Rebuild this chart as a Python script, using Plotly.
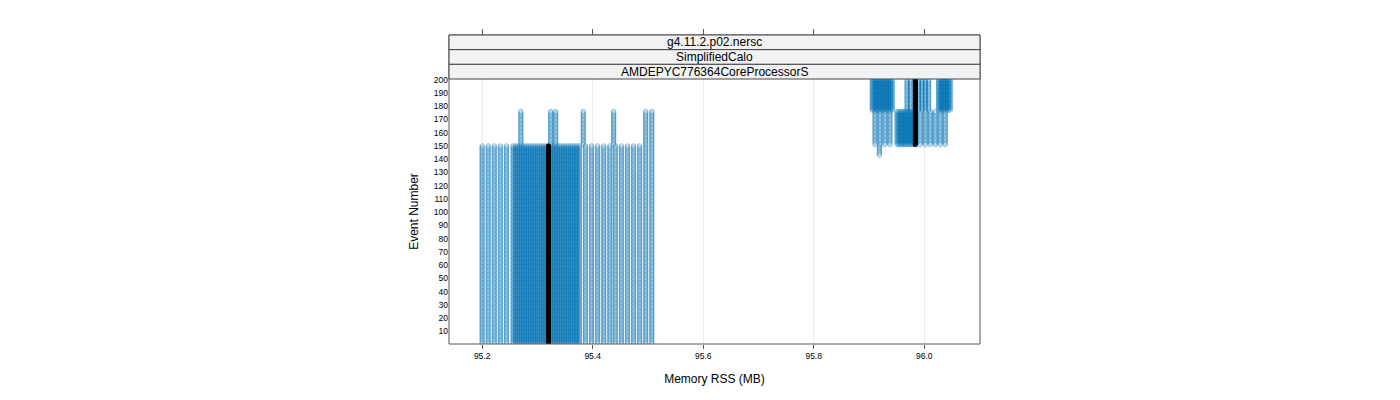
import plotly.graph_objects as go

# ---- data ----
# each group: memory values (MB) that appear for every event in [first, last]
grpA_events = (1, 150)
grpA_mem = [95.200, 95.211, 95.222, 95.233, 95.244,
            95.256, 95.260, 95.264, 95.268, 95.272, 95.276, 95.280, 95.284,
            95.288, 95.292, 95.296, 95.300, 95.304, 95.308, 95.312, 95.316,
            95.320, 95.324, 95.328, 95.332, 95.336, 95.340, 95.344, 95.348,
            95.352, 95.356, 95.360, 95.364, 95.368, 95.372,
            95.376, 95.387, 95.398, 95.409, 95.420, 95.431, 95.441, 95.452,
            95.463, 95.474, 95.485, 95.496, 95.507]
grpB_events = (151, 176)
grpB_mem = [95.270, 95.324, 95.333, 95.383, 95.438, 95.496, 95.507]
grpC_events = (151, 176)
grpC_mem = [95.911, 95.920, 95.929, 95.938,
            95.951, 95.954, 95.957, 95.960, 95.963, 95.966, 95.969, 95.972,
            95.975, 95.978, 95.981,
            95.993, 96.002, 96.011, 96.020, 96.029, 96.038]
grpD_events = (177, 200)
grpD_mem = [95.906, 95.909, 95.912, 95.915, 95.918, 95.921, 95.924, 95.927,
            95.930, 95.933, 95.936, 95.939, 95.942,
            95.969, 95.975,
            95.990, 95.996, 96.002, 96.008,
            96.026, 96.029, 96.032, 96.035, 96.038, 96.041, 96.044, 96.047]
grpE_events = (143, 150)
grpE_mem = [95.919]

median_segments = [((1, 150), 95.320), ((151, 200), 95.984)]

x_ticks = [95.2, 95.4, 95.6, 95.8, 96.0]
x_ticklabels = ["95.2", "95.4", "95.6", "95.8", "96.0"]
y_ticks = list(range(10, 201, 10))
strip_labels = ["g4.11.2.p02.nersc", "SimplifiedCalo", "AMDEPYC776364CoreProcessorS"]

# ---- expand groups into points ----
xs, ys = [], []
for (e0, e1), mems in [(grpA_events, grpA_mem), (grpB_events, grpB_mem),
                       (grpC_events, grpC_mem), (grpD_events, grpD_mem),
                       (grpE_events, grpE_mem)]:
    for m in mems:
        for ev in range(e0, e1 + 1):
            xs.append(m)
            ys.append(ev)

mx, my = [], []
for (e0, e1), m in median_segments:
    for ev in range(e0, e1 + 1):
        mx.append(m)
        my.append(ev)

W, H = 1400, 400
OFF = 8                  # page body margin
L, R = 449 - OFF, 980 - OFF          # plot area px (figure coords)
T_strip, T_plot, B = 35 - OFF, 79 - OFF, 344 - OFF

def px(x):
    return x / W

def py(y):
    return 1 - y / H

fig = go.Figure()
fig.add_trace(go.Scatter(
    x=xs, y=ys, mode="markers",
    marker=dict(symbol="circle-open", size=4.5, color="rgba(0,114,178,0.38)",
                line=dict(width=1, color="rgba(0,114,178,0.38)")),
    hoverinfo="skip", showlegend=False))
fig.add_trace(go.Scatter(
    x=mx, y=my, mode="markers",
    marker=dict(symbol="circle", size=5, color="black"),
    hoverinfo="skip", showlegend=False))
# invisible trace for top axis
fig.add_trace(go.Scatter(x=[95.6], y=[100], xaxis="x2", mode="markers",
                         marker=dict(opacity=0), hoverinfo="skip", showlegend=False))

xrange = [95.140, 96.101]
fig.update_layout(
    width=W, height=H,
    margin=dict(l=0, r=0, t=0, b=0, autoexpand=False),
    paper_bgcolor="white", plot_bgcolor="white",
    font=dict(family="Liberation Sans, Arial, sans-serif", color="black"),
    xaxis=dict(domain=[px(L), px(R)], range=xrange, automargin=False,
               tickvals=x_ticks, ticktext=x_ticklabels,
               ticks="outside", ticklen=4, tickcolor="#555555",
               tickfont=dict(size=8.5), showgrid=True, gridcolor="#ebebeb",
               zeroline=False, showline=False,
               title=dict(text="Memory RSS (MB)", font=dict(size=12), standoff=14)),
    xaxis2=dict(overlaying="x", anchor="free", position=py(T_strip), side="top",
                range=xrange, tickvals=x_ticks, showticklabels=False, automargin=False,
                ticks="outside", ticklen=6, tickcolor="#555555",
                showgrid=False, zeroline=False, showline=False),
    yaxis=dict(domain=[py(B), py(T_plot)], range=[0.5, 200.5], automargin=False,
               tickvals=y_ticks, ticks="", tickfont=dict(size=8.5),
               showgrid=False, zeroline=False, showline=False,
               title=dict(text="Event Number", font=dict(size=12), standoff=12)),
)

# panel border
fig.add_shape(type="rect", xref="paper", yref="paper",
              x0=px(L), x1=px(R), y0=py(B), y1=py(T_strip),
              line=dict(color="#555555", width=1), fillcolor="rgba(0,0,0,0)")
# strips
edges = [T_strip, T_strip + (T_plot - T_strip) / 3, T_strip + 2 * (T_plot - T_strip) / 3, T_plot]
for i, lab in enumerate(strip_labels):
    fig.add_shape(type="rect", xref="paper", yref="paper",
                  x0=px(L), x1=px(R), y0=py(edges[i + 1]), y1=py(edges[i]),
                  line=dict(color="#444444", width=1), fillcolor="#f2f2f2", layer="above")
    fig.add_annotation(xref="paper", yref="paper",
                       x=(px(L) + px(R)) / 2, y=(py(edges[i]) + py(edges[i + 1])) / 2,
                       text=lab, showarrow=False, font=dict(size=12, color="black"),
                       xanchor="center", yanchor="middle")

fig.write_html("out.html")
